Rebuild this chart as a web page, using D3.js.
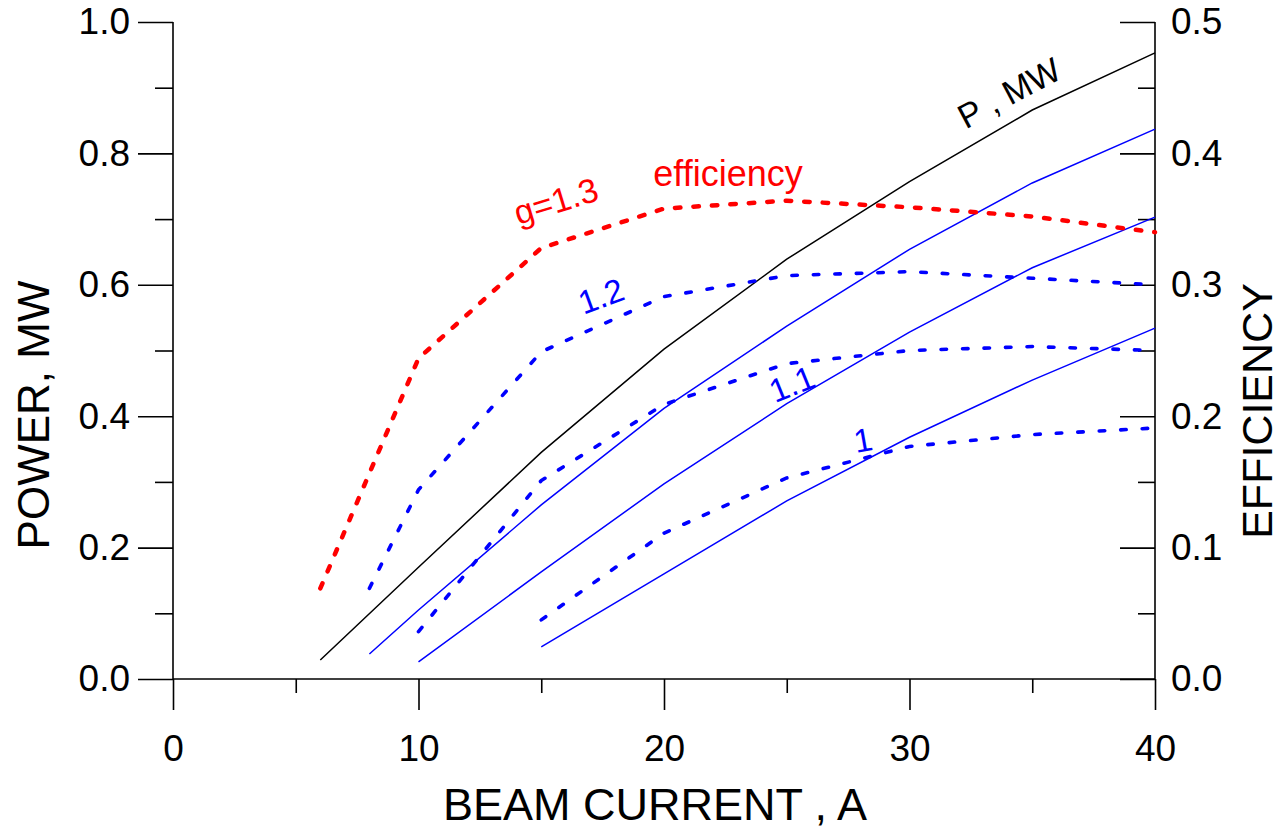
<!DOCTYPE html>
<html>
<head>
<meta charset="utf-8">
<script src="https://cdn.jsdelivr.net/npm/d3@7"></script>
<style>
  body { margin: 0; background: #fff; }
  svg { display: block; font-family: "Liberation Sans", Arial, sans-serif; }
</style>
</head>
<body>
<svg id="chart" width="1281" height="830"></svg>
<script>
// beam current (A) for each curve
var current13 = [6, 10, 15, 20, 25, 30, 35, 40],
	current12 = [8, 10, 15, 20, 25, 30, 35, 40],
	current11 = [10, 15, 20, 25, 30, 35, 40],
	current10 = [15, 20, 25, 30, 35, 40];

// output power, MW (solid lines)
var power13 = [0.029, 0.17, 0.345, 0.502, 0.639, 0.757, 0.866, 0.953],
	power12 = [0.038, 0.105, 0.265, 0.412, 0.537, 0.654, 0.755, 0.837],
	power11 = [0.026, 0.163, 0.297, 0.419, 0.528, 0.626, 0.703],
	power10 = [0.049, 0.160, 0.271, 0.368, 0.455, 0.534];

// efficiency (dotted lines, right axis)
var eff13 = [0.069, 0.244, 0.328, 0.358, 0.364, 0.359, 0.352, 0.340],
	eff12 = [0.069, 0.144, 0.249, 0.291, 0.307, 0.310, 0.305, 0.300],
	eff11 = [0.036, 0.151, 0.209, 0.240, 0.250, 0.253, 0.250],
	eff10 = [0.045, 0.111, 0.153, 0.177, 0.186, 0.191];

var xTicks = [0, 10, 20, 30, 40],
	xMinor = [5, 15, 25, 35],
	powerTicks = [0, 0.2, 0.4, 0.6, 0.8, 1.0],
	powerMinor = [0.1, 0.3, 0.5, 0.7, 0.9],
	effTicks = [0, 0.1, 0.2, 0.3, 0.4, 0.5],
	effMinor = [0.05, 0.15, 0.25, 0.35, 0.45];

var svg = d3.select("#chart");

var x = d3.scaleLinear().domain([0, 40]).range([173, 1155]),
	yP = d3.scaleLinear().domain([0, 1]).range([679, 22]),
	yE = d3.scaleLinear().domain([0, 0.5]).range([679, 22]);

function zip(xs, ys) {
	return xs.map(function(v, i) { return [v, ys[i]]; });
}

// axes
var fmt = d3.format(".1f");

function styleAxis(g) {
	g.select(".domain").remove();
	g.selectAll("line").attr("stroke", "#000").attr("stroke-width", 1.6);
	g.selectAll("text").attr("fill", "#000").attr("font-size", 37)
		.attr("font-family", "Liberation Sans, Arial, sans-serif");
}

svg.append("g")
	.attr("transform", "translate(0,679)")
	.call(d3.axisBottom(x).tickValues(xTicks).tickSize(31).tickPadding(25).tickFormat(d3.format("d")))
	.call(styleAxis);
svg.append("g")
	.attr("transform", "translate(0,679)")
	.call(d3.axisBottom(x).tickValues(xMinor).tickSize(14).tickFormat(""))
	.call(styleAxis);

svg.append("g")
	.attr("transform", "translate(173,0)")
	.call(d3.axisLeft(yP).tickValues(powerTicks).tickSize(35).tickPadding(8).tickFormat(fmt))
	.call(styleAxis);
svg.append("g")
	.attr("transform", "translate(173,0)")
	.call(d3.axisLeft(yP).tickValues(powerMinor).tickSize(18).tickFormat(""))
	.call(styleAxis);

svg.append("g")
	.attr("transform", "translate(1155,0)")
	.call(d3.axisRight(yE).tickValues(effTicks).tickSize(-35).tickPadding(16).tickFormat(fmt))
	.call(styleAxis);
svg.append("g")
	.attr("transform", "translate(1155,0)")
	.call(d3.axisRight(yE).tickValues(effMinor).tickSize(-17).tickFormat(""))
	.call(styleAxis);

// frame lines (left, right, bottom)
var frame = svg.append("g").attr("stroke", "#000").attr("stroke-width", 1.6);
frame.append("line").attr("x1", x(0)).attr("x2", x(0)).attr("y1", yP(1)).attr("y2", yP(0));
frame.append("line").attr("x1", x(40)).attr("x2", x(40)).attr("y1", yP(1)).attr("y2", yP(0));
frame.append("line").attr("x1", x(0)).attr("x2", x(40)).attr("y1", yP(0)).attr("y2", yP(0));

// power curves
var linePower = d3.line().x(function(d) { return x(d[0]); }).y(function(d) { return yP(d[1]); });
var lineEff = d3.line().x(function(d) { return x(d[0]); }).y(function(d) { return yE(d[1]); });

var powerSeries = [
	{ pts: zip(current13, power13), color: "#000000" },
	{ pts: zip(current12, power12), color: "#0000ff" },
	{ pts: zip(current11, power11), color: "#0000ff" },
	{ pts: zip(current10, power10), color: "#0000ff" }
];

svg.append("g").selectAll("path")
	.data(powerSeries)
	.enter()
	.append("path")
	.attr("d", function(d) { return linePower(d.pts); })
	.attr("fill", "none")
	.attr("stroke", function(d) { return d.color; })
	.attr("stroke-width", 1.5);

var effSeries = [
	{ pts: zip(current12, eff12), color: "#0000ff", w: 3.6, dash: "5.5,16" },
	{ pts: zip(current11, eff11), color: "#0000ff", w: 3.6, dash: "5.5,16" },
	{ pts: zip(current10, eff10), color: "#0000ff", w: 3.6, dash: "5.5,16" },
	{ pts: zip(current13, eff13), color: "#ff0000", w: 4.5, dash: "5.5,13" }
];

svg.append("g").selectAll("path")
	.data(effSeries)
	.enter()
	.append("path")
	.attr("d", function(d) { return lineEff(d.pts); })
	.attr("fill", "none")
	.attr("stroke", function(d) { return d.color; })
	.attr("stroke-width", function(d) { return d.w; })
	.attr("stroke-linecap", "round")
	.attr("stroke-dasharray", function(d) { return d.dash; });

// curve labels
var labels = [
	{ text: "P , MW", x: 1009, y: 93, rot: -28, color: "#000", size: 34 },
	{ text: "g=1.3", x: 556, y: 201, rot: -17, color: "#ff0000", size: 34 },
	{ text: "1.2", x: 601, y: 296, rot: -20, color: "#0000ff", size: 33 },
	{ text: "1.1", x: 792, y: 384, rot: -22, color: "#0000ff", size: 33 },
	{ text: "1", x: 863, y: 440, rot: -10, color: "#0000ff", size: 33 }
];

svg.append("g").selectAll("text")
	.data(labels)
	.enter()
	.append("text")
	.attr("transform", function(d) { return "translate(" + d.x + "," + d.y + ") rotate(" + d.rot + ")"; })
	.attr("text-anchor", "middle")
	.attr("dy", "0.35em")
	.attr("fill", function(d) { return d.color; })
	.attr("font-size", function(d) { return d.size; })
	.text(function(d) { return d.text; });

svg.append("text")
	.attr("x", 728).attr("y", 186)
	.attr("text-anchor", "middle")
	.attr("fill", "#ff0000")
	.attr("font-size", 36)
	.text("efficiency");

// axis titles
svg.append("text")
	.attr("x", 655).attr("y", 820)
	.attr("text-anchor", "middle")
	.attr("font-size", 45)
	.text("BEAM CURRENT , A");

svg.append("text")
	.attr("transform", "translate(49,415) rotate(-90)")
	.attr("text-anchor", "middle")
	.attr("font-size", 44)
	.text("POWER, MW");

svg.append("text")
	.attr("transform", "translate(1272,411) rotate(-90)")
	.attr("text-anchor", "middle")
	.attr("font-size", 43)
	.text("EFFICIENCY");
</script>
</body>
</html>
